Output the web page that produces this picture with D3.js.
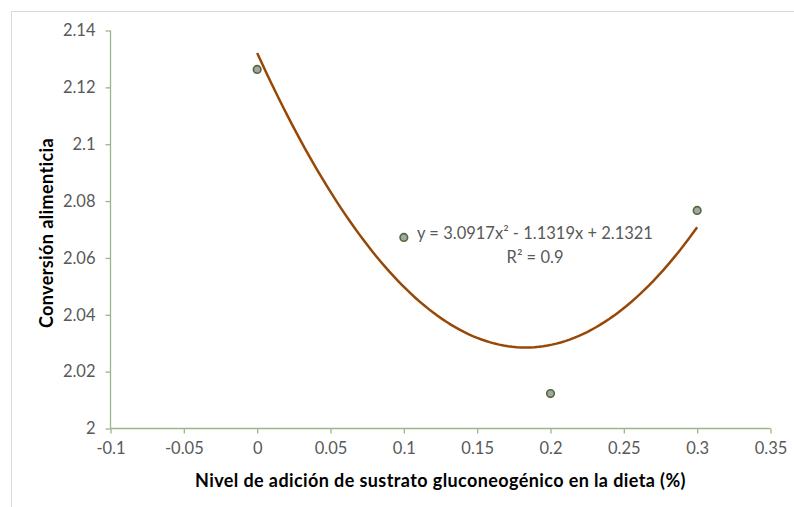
<!DOCTYPE html>
<html>
<head>
<meta charset="utf-8">
<script src="https://cdn.jsdelivr.net/npm/d3@7"></script>
<style>
	body { margin: 0; background: #fff; }
	text { font-family: Lato, "Open Sans", sans-serif; }
</style>
</head>
<body>
<div id="chart"></div>
<script>
// DATA
const xValues = [0, 0.1, 0.2, 0.3];
const yValues = [2.1263, 2.0672, 2.0123, 2.0767];
const xTicks = [-0.1, -0.05, 0, 0.05, 0.1, 0.15, 0.2, 0.25, 0.3, 0.35];
const yTicks = [2, 2.02, 2.04, 2.06, 2.08, 2.1, 2.12, 2.14];
// trendline coefficients (a, b, c) of y = a x^2 + b x + c
const trendCoef = [3.0917, -1.1319, 2.1321];
const trendRange = [0, 0.3];
const equationLabel = "y = 3.0917x² - 1.1319x + 2.1321";
const r2Label = "R² = 0.9";
const xTitle = "Nivel de adición de sustrato gluconeogénico en la dieta (%)";
const yTitle = "Conversión alimenticia";

// SVG DIMENSIONS
const width = 794;
const height = 507;
const svg = d3.select("#chart")
	.append("svg")
	.attr("width", width)
	.attr("height", height);

// chart border (only left and top visible)
svg.append("rect")
	.attr("x", 11.5).attr("y", 11.5)
	.attr("width", width).attr("height", height)
	.attr("fill", "none")
	.attr("stroke", "#d9d9d9");

const plot = { left: 110.5, right: 770.5, top: 30.5, bottom: 428.5 };

// SCALES
const x = d3.scaleLinear().domain([-0.1, 0.35]).range([plot.left, plot.right]);
const y = d3.scaleLinear().domain([2, 2.14]).range([plot.bottom, plot.top]);

const axisColor = "#9db58b";
const labelColor = "#595959";
// plain hyphen minus, like the spreadsheet labels
const fmt = d => String(+d.toFixed(2));

// AXES
const xAxis = svg.append("g")
	.attr("transform", `translate(0,${plot.bottom})`)
	.call(d3.axisBottom(x).tickValues(xTicks).tickSize(5).tickPadding(9).tickFormat(fmt));
const yAxis = svg.append("g")
	.attr("transform", `translate(${plot.left},0)`)
	.call(d3.axisLeft(y).tickValues(yTicks).tickSize(5).tickPadding(10).tickFormat(fmt));

[xAxis, yAxis].forEach(g => {
	g.select(".domain").attr("stroke", axisColor).attr("stroke-width", 1.3);
	g.selectAll(".tick line").attr("stroke", axisColor).attr("stroke-width", 1.3);
	g.selectAll(".tick text")
		.attr("fill", labelColor)
		.style("font-size", "16.5px")
		.style("font-family", "Lato, 'Open Sans', sans-serif");
});
// remove the outer tick ends from the domain path
xAxis.select(".domain").attr("d", `M${plot.left},0H${plot.right}`);
yAxis.select(".domain").attr("d", `M0,${plot.bottom}V${plot.top}`);

// TRENDLINE
const trend = d3.range(0, 101).map(i => {
	const xv = trendRange[0] + (trendRange[1] - trendRange[0]) * i / 100;
	return [xv, trendCoef[0] * xv * xv + trendCoef[1] * xv + trendCoef[2]];
});
svg.append("path")
	.datum(trend)
	.attr("d", d3.line().x(d => x(d[0])).y(d => y(d[1])))
	.attr("fill", "none")
	.attr("stroke", "#974806")
	.attr("stroke-width", 2.5);

// POINTS
svg.append("g")
	.selectAll("circle")
	.data(xValues.map((v, i) => [v, yValues[i]]))
	.enter()
	.append("circle")
		.attr("cx", d => x(d[0]))
		.attr("cy", d => y(d[1]))
		.attr("r", 3.8)
		.attr("fill", "#a5a5a5")
		.attr("stroke", "#4e6b38")
		.attr("stroke-width", 1.6);

// EQUATION
svg.append("text")
	.attr("x", 535).attr("y", 239)
	.attr("text-anchor", "middle")
	.attr("fill", labelColor)
	.style("font-size", "16.5px")
	.text(equationLabel);
svg.append("text")
	.attr("x", 535).attr("y", 263)
	.attr("text-anchor", "middle")
	.attr("fill", labelColor)
	.style("font-size", "16.5px")
	.text(r2Label);

// AXIS TITLES
svg.append("text")
	.attr("x", (plot.left + plot.right) / 2)
	.attr("y", 487)
	.attr("text-anchor", "middle")
	.attr("font-weight", "bold")
	.attr("fill", "#000")
	.style("font-size", "18px")
	.style("letter-spacing", "0.4px")
	.text(xTitle);
svg.append("text")
	.attr("transform", `translate(53,233) rotate(-90)`)
	.attr("text-anchor", "middle")
	.attr("font-weight", "bold")
	.attr("fill", "#000")
	.style("font-size", "18px")
	.style("letter-spacing", "0.4px")
	.text(yTitle);
</script>
</body>
</html>
